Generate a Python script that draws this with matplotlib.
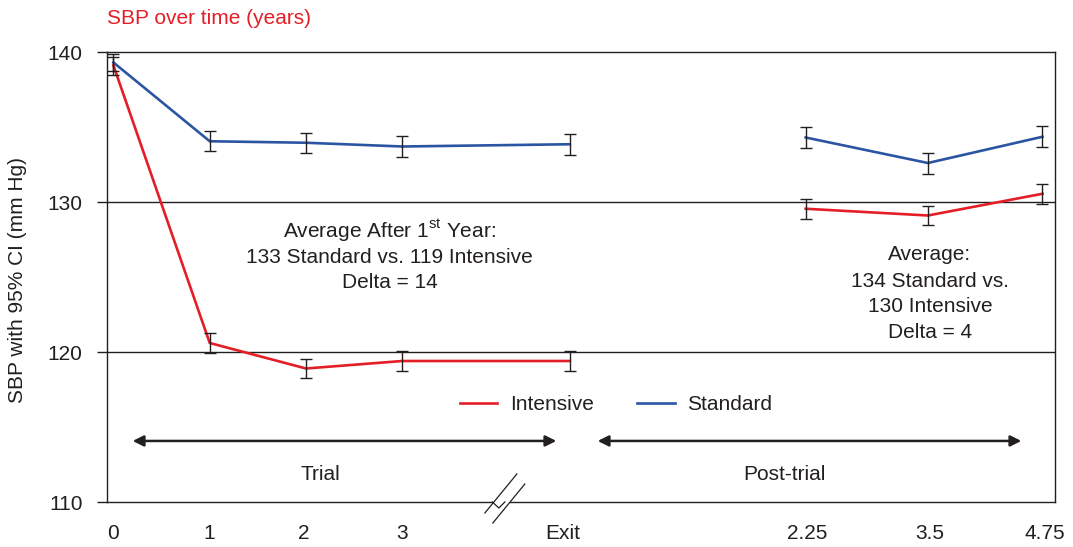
import matplotlib
matplotlib.use("Agg")
import matplotlib.pyplot as plt
from matplotlib.lines import Line2D
from matplotlib.patches import Polygon

plt.rcParams["font.family"] = ["Liberation Sans", "DejaVu Sans"]
plt.rcParams["mathtext.fontset"] = "custom"
plt.rcParams["mathtext.rm"] = "Liberation Sans"

# visit labels and SBP means with 95% CI half-widths
visits = ["0", "1", "2", "3", "Exit", "2.25", "3.5", "4.75"]
x_pos = [0.0, 1.0, 2.0, 3.0, 4.74, 7.19, 8.46, 9.65]
tick_pos = [0.0, 0.99, 1.98, 3.0, 4.67, 7.21, 8.48, 9.67]

trial_idx = [0, 1, 2, 3, 4]
post_idx = [5, 6, 7]

standard = [139.3, 134.05, 133.95, 133.7, 133.85, 134.3, 132.6, 134.35]
standard_ci = [0.6, 0.65, 0.65, 0.7, 0.7, 0.7, 0.7, 0.7]
intensive = [139.1, 120.6, 118.9, 119.4, 119.4, 129.55, 129.1, 130.55]
intensive_ci = [0.6, 0.65, 0.65, 0.65, 0.65, 0.65, 0.65, 0.65]

RED = "#E41E26"
BLUE = "#2B55A3"
INK = "#231F20"

fig = plt.figure(figsize=(10.73, 5.47), dpi=100)
ax = fig.add_axes([107 / 1073, 45 / 547, 948 / 1073, 450 / 547])

for vals, ci, color in [(standard, standard_ci, BLUE), (intensive, intensive_ci, RED)]:
    for idx in (trial_idx, post_idx):
        xs = [x_pos[i] for i in idx]
        ys = [vals[i] for i in idx]
        ax.plot(xs, ys, color=color, lw=1.9, zorder=3, solid_joinstyle="round")
    ax.errorbar(x_pos, vals, yerr=ci, fmt="none", ecolor=INK, elinewidth=1.0,
                capsize=4, capthick=1.0, zorder=4)

ax.set_xlim(-0.067, 9.78)
ax.set_ylim(110, 140)
ax.set_yticks([110, 120, 130, 140])
ax.set_xticks(tick_pos)
ax.set_xticklabels(visits)
ax.tick_params(axis="x", length=0, pad=15.5, labelsize=15, labelcolor=INK)
ax.tick_params(axis="y", length=7.5, width=1.0, pad=10, labelsize=15,
               labelcolor=INK, color=INK)
for s in ax.spines.values():
    s.set_color(INK)
    s.set_linewidth(1.0)

for gy in (120, 130):
    ax.axhline(gy, color=INK, lw=1.0, zorder=1)

ax.set_title("SBP over time (years)", loc="left", color=RED, fontsize=15, pad=20)
fig.text(18 / 1073, 1 - 280 / 547, "SBP with 95% CI (mm Hg)", rotation=90,
         ha="center", va="center", fontsize=15, color=INK)

# summary text blocks
left_lines = ["Average After 1$^{\\mathrm{st}}$ Year:", "133 Standard vs. 119 Intensive",
              "Delta = 14"]
for line, y in zip(left_lines, [128.1, 126.33, 124.6]):
    ax.text(2.87, y, line, ha="center", va="center", fontsize=15, color=INK)

right_lines = ["Average:", "134 Standard vs.", "130 Intensive", "Delta = 4"]
for line, y in zip(right_lines, [126.47, 124.67, 123.0, 121.33]):
    ax.text(8.48, y, line, ha="center", va="center", fontsize=15, color=INK)

# legend
handles = [Line2D([], [], color=RED, lw=1.9), Line2D([], [], color=BLUE, lw=1.9)]
ax.legend(handles, ["Intensive", "Standard"], ncol=2, loc="center",
          bbox_to_anchor=(5.22, 116.47), bbox_transform=ax.transData,
          frameon=False, fontsize=15, handlelength=1.8, handletextpad=0.6,
          columnspacing=2.1, borderpad=0, borderaxespad=0, labelcolor=INK)

# trial / post-trial spans
for x0, x1 in [(0.2, 4.6), (5.03, 9.43)]:
    ax.annotate("", xy=(x1, 114.07), xytext=(x0, 114.07),
                arrowprops=dict(arrowstyle="<|-|>", lw=1.8, color=INK,
                                mutation_scale=16, shrinkA=0, shrinkB=0))
ax.text(2.15, 111.8, "Trial", ha="center", va="center", fontsize=15, color=INK)
ax.text(6.97, 111.8, "Post-trial", ha="center", va="center", fontsize=15, color=INK)

# axis break on the bottom spine
def px(x, y):
    return ((x - 113.5) / 96.3, 140 - (y - 52) / 15)

gap = Polygon([px(485, 513), px(517, 474), px(525, 484), px(493, 523)],
              closed=True, facecolor="white", edgecolor="none", zorder=5, clip_on=False)
ax.add_patch(gap)
for (xa, ya), (xb, yb) in [((485, 513), (517, 474)), ((493, 523), (525, 484))]:
    p0, p1 = px(xa, ya), px(xb, yb)
    ax.plot([p0[0], p1[0]], [p0[1], p1[1]], color=INK, lw=0.9, zorder=6, clip_on=False)
zz = [px(492.5, 502), px(499, 508), px(505, 502)]
ax.plot([p[0] for p in zz], [p[1] for p in zz], color=INK, lw=0.9, zorder=6, clip_on=False)

fig.savefig("out.png", dpi=100)
